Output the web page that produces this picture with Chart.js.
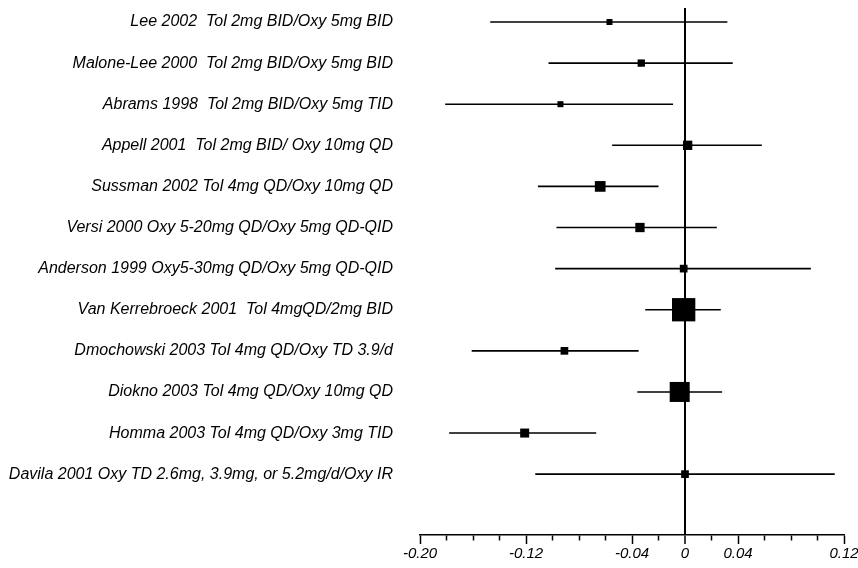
<!DOCTYPE html>
<html><head><meta charset="utf-8">
<script src="https://cdn.jsdelivr.net/npm/chart.js@4"></script>
<style>html,body{margin:0;padding:0;background:#fff}#wrap{width:858px;height:568px}</style>
</head><body><div id="wrap"><canvas id="c" width="858" height="568"></canvas></div>
<script>
const studies = [
  "Lee 2002  Tol 2mg BID/Oxy 5mg BID",
  "Malone-Lee 2000  Tol 2mg BID/Oxy 5mg BID",
  "Abrams 1998  Tol 2mg BID/Oxy 5mg TID",
  "Appell 2001  Tol 2mg BID/ Oxy 10mg QD",
  "Sussman 2002 Tol 4mg QD/Oxy 10mg QD",
  "Versi 2000 Oxy 5-20mg QD/Oxy 5mg QD-QID",
  "Anderson 1999 Oxy5-30mg QD/Oxy 5mg QD-QID",
  "Van Kerrebroeck 2001  Tol 4mgQD/2mg BID",
  "Dmochowski 2003 Tol 4mg QD/Oxy TD 3.9/d",
  "Diokno 2003 Tol 4mg QD/Oxy 10mg QD",
  "Homma 2003 Tol 4mg QD/Oxy 3mg TID",
  "Davila 2001 Oxy TD 2.6mg, 3.9mg, or 5.2mg/d/Oxy IR"
];
const estimates = [-0.057, -0.033, -0.094, 0.002, -0.064, -0.034, -0.001, -0.001, -0.091, -0.004, -0.121, 0.000];
const lower     = [-0.147, -0.103, -0.181, -0.055, -0.111, -0.097, -0.098, -0.030, -0.161, -0.036, -0.178, -0.113];
const upper     = [ 0.032,  0.036, -0.009,  0.058, -0.020,  0.024,  0.095,  0.027, -0.035,  0.028, -0.067,  0.113];
const weights   = [6, 7.3, 6, 9.3, 10.7, 9.3, 7.7, 23.3, 7.7, 20, 9, 7.7];
const xTicks = [-0.20, -0.18, -0.16, -0.14, -0.12, -0.10, -0.08, -0.06, -0.04, -0.02, 0, 0.02, 0.04, 0.06, 0.08, 0.10, 0.12];
const xMajorTicks = [-0.20, -0.12, -0.04, 0, 0.04, 0.12];
const xTickLabels = ["-0.20", "-0.12", "-0.04", "0", "0.04", "0.12"];

const near = (a, b) => Math.abs(a - b) < 1e-9;
const majorIndex = v => xMajorTicks.findIndex(m => near(m, v));

const FONT = "'Liberation Sans', Arial, sans-serif";

const datasets = [{
  type: 'scatter',
  data: estimates.map((v, i) => ({x: v, y: i})),
  pointStyle: 'rect',
  pointRadius: weights.map(w => w * Math.SQRT1_2),
  pointBackgroundColor: '#000',
  pointBorderWidth: 0,
  pointBorderColor: '#000'
}];
studies.forEach((s, i) => {
  datasets.push({
    type: 'line',
    data: [{x: lower[i], y: i}, {x: upper[i], y: i}],
    borderColor: '#000',
    borderWidth: 1.6,
    pointRadius: 0,
    fill: false
  });
});

new Chart(document.getElementById('c'), {
  type: 'scatter',
  data: {datasets},
  options: {
    responsive: false,
    animation: false,
    events: [],
    layout: {autoPadding: false, padding: {top: 8, right: 14, left: 0, bottom: 0}},
    plugins: {legend: {display: false}, tooltip: {enabled: false}},
    scales: {
      x: {
        type: 'linear',
        min: -0.20, max: 0.12,
        afterBuildTicks: sc => { sc.ticks = xTicks.map(v => ({value: v})); },
        afterFit: sc => { sc.height = 33; sc.paddingLeft = 0; sc.paddingRight = 0; sc.paddingTop = 0; sc.paddingBottom = 0; },
        ticks: {
          autoSkip: false,
          maxRotation: 0,
          padding: 1,
          color: '#000',
          font: {family: FONT, size: 15, style: 'italic'},
          callback: v => { const k = majorIndex(v); return k >= 0 ? xTickLabels[k] : ''; }
        },
        border: {display: true, color: '#000', width: 1.5},
        grid: {
          drawOnChartArea: true,
          drawTicks: true,
          tickLength: 9,
          tickColor: '#000',
          tickWidth: 1.5,
          color: ctx => (ctx.tick && near(ctx.tick.value, 0)) ? '#000' : 'rgba(0,0,0,0)',
          lineWidth: ctx => (ctx.tick && near(ctx.tick.value, 0)) ? 2 : 1,
          tickBorderDash: ctx => (ctx.tick && majorIndex(ctx.tick.value) >= 0) ? [] : [5, 50]
        }
      },
      y: {
        type: 'linear',
        reverse: true,
        min: -0.34, max: 12.48,
        afterBuildTicks: sc => { sc.ticks = studies.map((_, i) => ({value: i})); },
        afterFit: sc => { sc.width = 420; sc.paddingTop = 0; sc.paddingBottom = 0; sc.paddingLeft = 0; sc.paddingRight = 0; },
        ticks: {
          autoSkip: false,
          padding: 27,
          color: '#000',
          font: {family: FONT, size: 16, style: 'italic'},
          callback: v => studies[v]
        },
        border: {display: false},
        grid: {display: false, drawTicks: false}
      }
    }
  }
});
</script></body></html>
